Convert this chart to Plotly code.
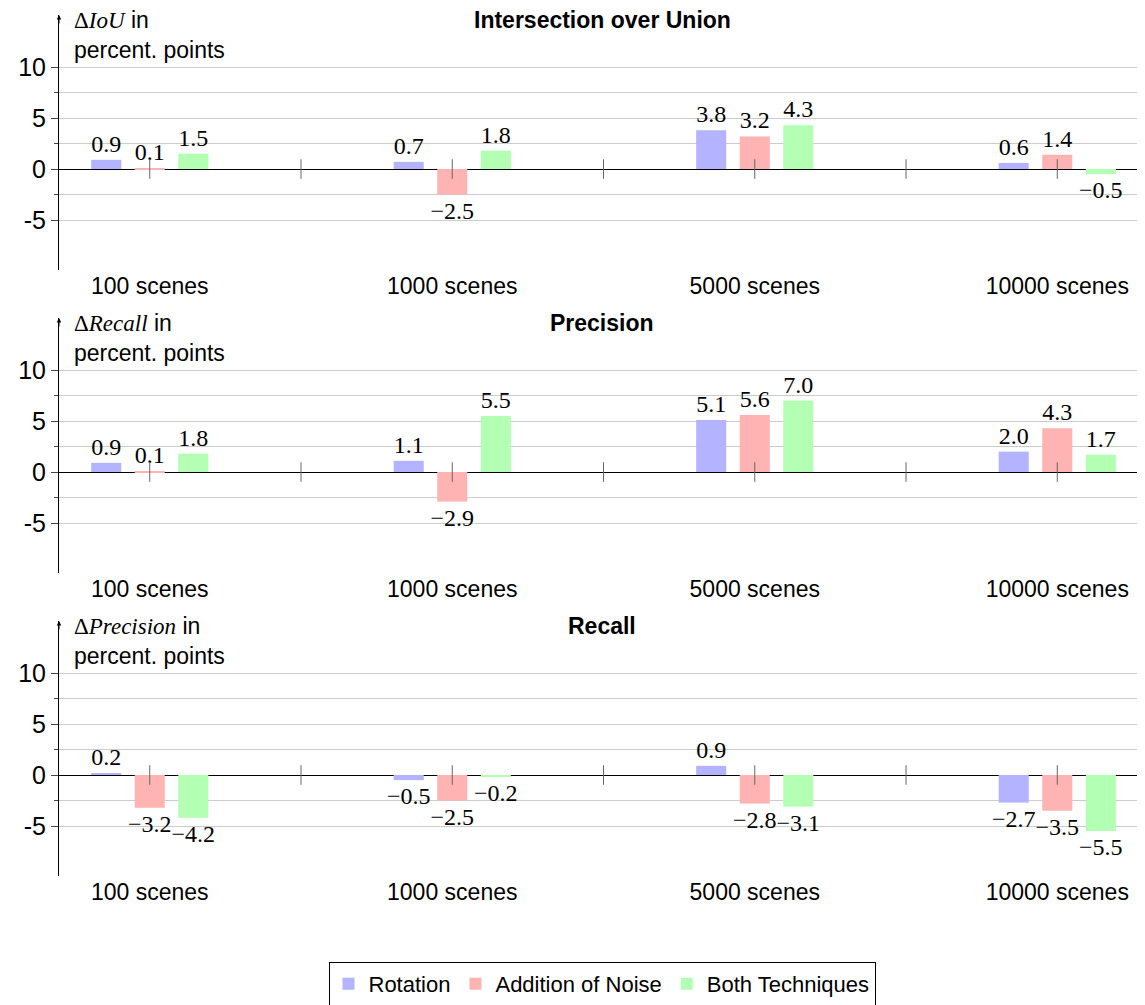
import plotly.graph_objects as go

categories = ["100 scenes", "1000 scenes", "5000 scenes", "10000 scenes"]
series_names = ["Rotation", "Addition of Noise", "Both Techniques"]
series_colors = ["#b3b3ff", "#ffb3b3", "#b3ffb3"]

panel_titles = ["Intersection over Union", "Precision", "Recall"]
panel_ylabels = ["IoU", "Recall", "Precision"]

iou_rotation = [0.9, 0.7, 3.8, 0.6]
iou_noise = [0.1, -2.5, 3.2, 1.4]
iou_both = [1.5, 1.8, 4.3, -0.5]

prec_rotation = [0.9, 1.1, 5.1, 2.0]
prec_noise = [0.1, -2.9, 5.6, 4.3]
prec_both = [1.8, 5.5, 7.0, 1.7]

rec_rotation = [0.2, -0.5, 0.9, -2.7]
rec_noise = [-3.2, -2.5, -2.8, -3.5]
rec_both = [-4.2, -0.2, -3.1, -5.5]

panels = [
    [iou_rotation, iou_noise, iou_both],
    [prec_rotation, prec_noise, prec_both],
    [rec_rotation, rec_noise, rec_both],
]

ytick_vals = [-5, 0, 5, 10]
ytick_text = ["-5", "0", "5", "10"]
yminor_vals = [-2.5, 2.5, 7.5]
y_range = [-9.9, 15.1]
x_range = [-0.3, 3.29]

SANS = "Liberation Sans, Arial, sans-serif"
SERIF = "Liberation Serif, Times New Roman, serif"

# the page body adds an 8px margin, so the figure is drawn 8px in from the corner
W, H = 1137, 997
mt, mb, ml, mr = 7, 129, 51, 0
ph = H - mt - mb
panel_px = [(7, 262), (310, 565), (613, 868)]
domains = [[1 - (b - mt) / ph, 1 - (t - mt) / ph] for t, b in panel_px]

fig = go.Figure()

def fmt(v):
    return f"{v:.1f}".replace("-", "\u2212")

for p, series in enumerate(panels):
    xa = "x" if p == 0 else f"x{p+1}"
    ya = "y" if p == 0 else f"y{p+1}"
    for s, vals in enumerate(series):
        fig.add_trace(go.Bar(
            x=list(range(len(categories))), y=vals,
            name=series_names[s],
            marker=dict(color=series_colors[s], line=dict(width=0)),
            text=[fmt(v) for v in vals],
            textposition="outside",
            textfont=dict(family=SERIF, size=24, color="black"),
            constraintext="none",
            cliponaxis=False,
            showlegend=(p == 0),
            legendgroup=series_names[s],
            xaxis=xa, yaxis=ya,
            hoverinfo="skip",
        ))
    # small tick marks on the zero line at category centres and midpoints
    n = len(categories)
    tick_x = [i * 0.5 for i in range(2 * n - 1)]
    fig.add_trace(go.Scatter(
        x=tick_x, y=[0] * len(tick_x), mode="markers",
        marker=dict(symbol="line-ns-open", size=14, color="#666666",
                    line=dict(width=1, color="#666666")),
        showlegend=False, hoverinfo="skip", xaxis=xa, yaxis=ya,
    ))

    sfx = "" if p == 0 else str(p + 1)
    fig.update_layout(**{
        f"xaxis{sfx}": dict(
            domain=[0, 1], anchor=ya, range=x_range,
            tickmode="array", tickvals=list(range(len(categories))),
            ticktext=categories, ticks="", showgrid=False, zeroline=False,
            showline=False, tickfont=dict(family=SANS, size=23, color="black"),
            fixedrange=True, automargin=False,
        ),
        f"yaxis{sfx}": dict(
            domain=domains[p], anchor=xa, range=y_range,
            tickmode="array", tickvals=ytick_vals, ticktext=ytick_text,
            ticks="outside", ticklen=7, tickcolor="#444444",
            showgrid=True, gridcolor="#cccccc", gridwidth=1,
            minor=dict(tickmode="array", tickvals=yminor_vals, ticks="outside",
                       ticklen=4, tickcolor="#444444", showgrid=True,
                       gridcolor="#cccccc"),
            zeroline=True, zerolinecolor="black", zerolinewidth=1,
            showline=True, linecolor="black", linewidth=1,
            tickfont=dict(family=SANS, size=25, color="black"),
            fixedrange=True, automargin=False,
        ),
    })

    # panel title
    fig.add_annotation(
        text=f"<b>{panel_titles[p]}</b>", xref="paper", x=0.5,
        yref=f"{ya} domain", y=1, yanchor="middle", yshift=-5,
        showarrow=False, font=dict(family=SANS, size=23, color="black"),
    )
    # y label lines
    fig.add_annotation(
        text=f"<span style='font-family:{SERIF}'>\u0394<i>{panel_ylabels[p]}</i></span> in",
        xref="paper", x=13 / (W - ml - mr), xanchor="left",
        yref=f"{ya} domain", y=1, yanchor="middle", yshift=-5,
        showarrow=False, font=dict(family=SANS, size=23, color="black"),
    )
    fig.add_annotation(
        text="percent. points",
        xref="paper", x=13 / (W - ml - mr), xanchor="left",
        yref=f"{ya} domain", y=1, yanchor="middle", yshift=-35,
        showarrow=False, font=dict(family=SANS, size=23, color="black"),
    )
    # axis arrow head
    fig.add_annotation(
        text="", xref=f"{xa} domain", x=0, yref=f"{ya} domain", y=1,
        ax=0, ay=10, showarrow=True, arrowhead=2, arrowsize=0.9,
        arrowwidth=1, arrowcolor="black",
    )

fig.update_layout(
    width=W, height=H,
    margin=dict(l=ml, r=mr, t=mt, b=mb, autoexpand=False),
    plot_bgcolor="white", paper_bgcolor="white",
    barmode="group", bargap=0.568, bargroupgap=0.31,
    font=dict(family=SANS, color="black"),
    legend=dict(
        orientation="h", x=0.5, xanchor="center",
        y=-86 / ph, yanchor="top",
        bordercolor="black", borderwidth=1,
        font=dict(family=SANS, size=22, color="black"),
        itemsizing="constant",
    ),
    showlegend=True,
)

fig.write_html("out.html")
